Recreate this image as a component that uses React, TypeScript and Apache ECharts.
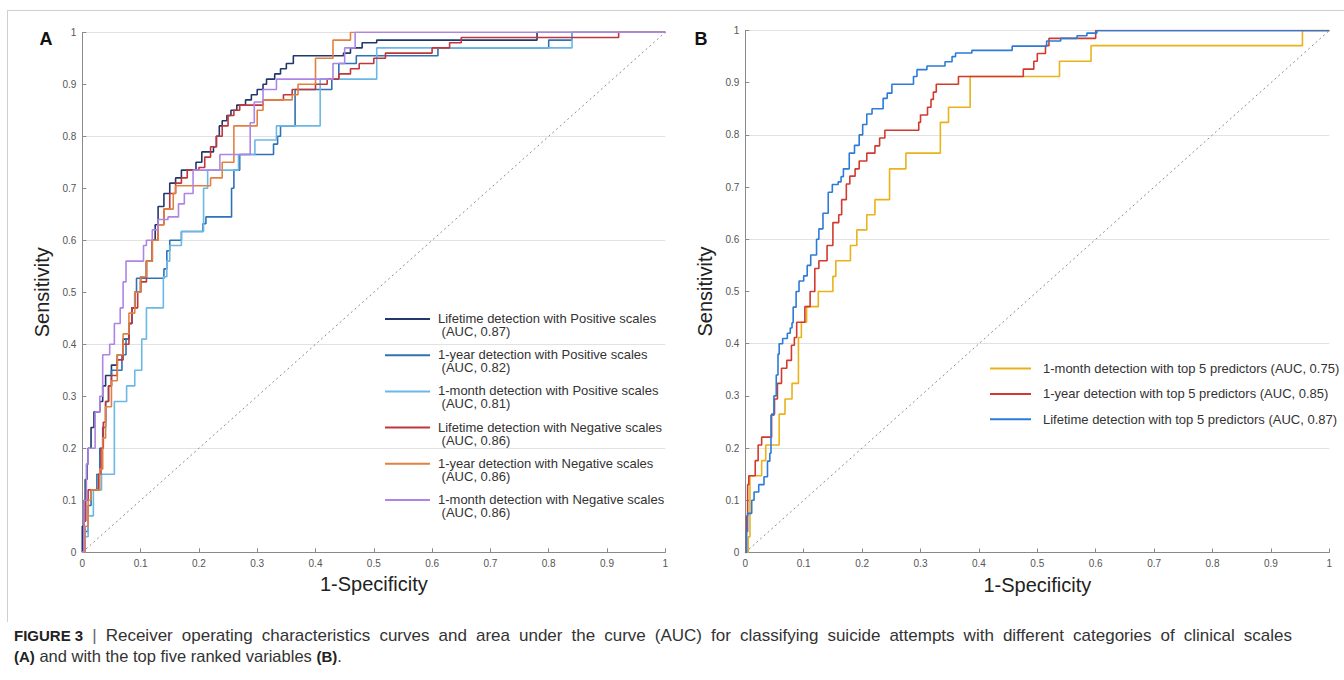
import React, { useEffect, useRef } from "react";
import * as echarts from "echarts";

// ---------- Panel A: ROC points [1-specificity, sensitivity] ----------
const lifetimePositive: number[][] = [
  [0, 0], [0, 0.05], [0.003, 0.1], [0.005, 0.14], [0.008, 0.17], [0.01, 0.2], [0.015, 0.24], [0.02, 0.27],
  [0.03, 0.29], [0.035, 0.32], [0.04, 0.34], [0.05, 0.36], [0.06, 0.38], [0.07, 0.41], [0.08, 0.44],
  [0.085, 0.47], [0.09, 0.5], [0.1, 0.53], [0.11, 0.56], [0.12, 0.6], [0.125, 0.63], [0.13, 0.665],
  [0.14, 0.69], [0.15, 0.71], [0.16, 0.72], [0.17, 0.735], [0.195, 0.75], [0.205, 0.77], [0.225, 0.78],
  [0.23, 0.8], [0.235, 0.82], [0.24, 0.83], [0.248, 0.84], [0.255, 0.85], [0.265, 0.86], [0.28, 0.87],
  [0.29, 0.88], [0.3, 0.89], [0.31, 0.9], [0.316, 0.91], [0.33, 0.92], [0.34, 0.93], [0.35, 0.94],
  [0.362, 0.955], [0.448, 0.96], [0.46, 0.97], [0.48, 0.98], [0.505, 0.985], [0.78, 1], [1, 1],
];
const yearPositive: number[][] = [
  [0, 0], [0.005, 0.04], [0.01, 0.09], [0.015, 0.12], [0.025, 0.15], [0.03, 0.2], [0.035, 0.24],
  [0.04, 0.29], [0.045, 0.32], [0.05, 0.35], [0.068, 0.38], [0.075, 0.41], [0.08, 0.44], [0.085, 0.47],
  [0.09, 0.5], [0.093, 0.527], [0.14, 0.545], [0.145, 0.58], [0.15, 0.6], [0.17, 0.617], [0.207, 0.632],
  [0.212, 0.645], [0.256, 0.7], [0.26, 0.735], [0.27, 0.765], [0.328, 0.785], [0.335, 0.8], [0.34, 0.82],
  [0.365, 0.89], [0.428, 0.91], [0.44, 0.94], [0.47, 0.955], [0.61, 0.97], [0.8, 0.985], [0.84, 1], [1, 1],
];
const monthPositive: number[][] = [
  [0, 0], [0.005, 0.03], [0.01, 0.07], [0.019, 0.12], [0.033, 0.15], [0.055, 0.29], [0.076, 0.32],
  [0.09, 0.35], [0.102, 0.41], [0.11, 0.47], [0.139, 0.53], [0.145, 0.56], [0.15, 0.59], [0.17, 0.617],
  [0.208, 0.7], [0.215, 0.735], [0.268, 0.765], [0.296, 0.793], [0.333, 0.82], [0.408, 0.91],
  [0.505, 0.97], [0.84, 1], [1, 1],
];
const lifetimeNegative: number[][] = [
  [0, 0], [0.003, 0.06], [0.006, 0.1], [0.01, 0.12], [0.025, 0.12], [0.028, 0.15], [0.032, 0.2],
  [0.036, 0.25], [0.04, 0.29], [0.045, 0.32], [0.05, 0.34], [0.06, 0.37], [0.07, 0.4], [0.08, 0.44],
  [0.085, 0.47], [0.095, 0.5], [0.1, 0.52], [0.11, 0.56], [0.12, 0.6], [0.13, 0.63], [0.14, 0.66],
  [0.15, 0.69], [0.16, 0.71], [0.17, 0.72], [0.18, 0.735], [0.2, 0.74], [0.21, 0.76], [0.22, 0.78],
  [0.23, 0.8], [0.24, 0.82], [0.25, 0.84], [0.26, 0.85], [0.27, 0.86], [0.31, 0.87], [0.345, 0.88],
  [0.36, 0.89], [0.4, 0.9], [0.42, 0.91], [0.44, 0.92], [0.46, 0.93], [0.475, 0.94], [0.5, 0.95],
  [0.52, 0.96], [0.6, 0.97], [0.63, 0.98], [0.65, 0.99], [0.92, 1], [1, 1],
];
const yearNegative: number[][] = [
  [0, 0], [0.005, 0.05], [0.01, 0.1], [0.015, 0.12], [0.025, 0.12], [0.03, 0.16], [0.035, 0.22],
  [0.04, 0.28], [0.05, 0.33], [0.06, 0.38], [0.07, 0.42], [0.08, 0.46], [0.09, 0.5], [0.1, 0.53],
  [0.11, 0.56], [0.12, 0.6], [0.13, 0.63], [0.14, 0.66], [0.156, 0.69], [0.16, 0.705], [0.22, 0.72],
  [0.24, 0.75], [0.26, 0.82], [0.3, 0.85], [0.31, 0.87], [0.36, 0.88], [0.37, 0.9], [0.4, 0.95],
  [0.43, 0.985], [0.46, 1], [1, 1],
];
const monthNegative: number[][] = [
  [0, 0], [0.003, 0.1], [0.007, 0.17], [0.01, 0.2], [0.022, 0.27], [0.03, 0.3], [0.035, 0.38],
  [0.047, 0.4], [0.055, 0.44], [0.065, 0.47], [0.07, 0.52], [0.075, 0.56], [0.105, 0.59], [0.11, 0.6],
  [0.12, 0.62], [0.13, 0.64], [0.147, 0.645], [0.165, 0.67], [0.175, 0.69], [0.19, 0.735],
  [0.236, 0.765], [0.288, 0.826], [0.295, 0.866], [0.31, 0.89], [0.333, 0.91], [0.43, 0.94],
  [0.45, 0.97], [0.468, 1], [1, 1],
];

// ---------- Panel B ----------
const monthTop5: number[][] = [
  [0, 0], [0.005, 0.03], [0.008, 0.147], [0.028, 0.176], [0.035, 0.206], [0.058, 0.265], [0.068, 0.294],
  [0.08, 0.324], [0.091, 0.412], [0.096, 0.441], [0.105, 0.471], [0.125, 0.5], [0.15, 0.529],
  [0.155, 0.559], [0.18, 0.588], [0.191, 0.618], [0.208, 0.647], [0.222, 0.676], [0.247, 0.735],
  [0.275, 0.765], [0.334, 0.824], [0.348, 0.853], [0.385, 0.912], [0.538, 0.941], [0.592, 0.971],
  [0.954, 1], [1, 1],
];
const yearTop5: number[][] = [
  [0, 0], [0.002, 0.07], [0.004, 0.13], [0.006, 0.147], [0.017, 0.176], [0.022, 0.206], [0.028, 0.221],
  [0.045, 0.265], [0.05, 0.294], [0.055, 0.324], [0.062, 0.353], [0.071, 0.368], [0.079, 0.397],
  [0.084, 0.412], [0.088, 0.441], [0.102, 0.471], [0.111, 0.5], [0.119, 0.544], [0.126, 0.559],
  [0.14, 0.588], [0.15, 0.632], [0.16, 0.647], [0.165, 0.676], [0.173, 0.706], [0.179, 0.721],
  [0.188, 0.735], [0.195, 0.75], [0.208, 0.765], [0.222, 0.779], [0.23, 0.794], [0.239, 0.809],
  [0.297, 0.824], [0.3, 0.838], [0.312, 0.853], [0.318, 0.868], [0.322, 0.882], [0.327, 0.897],
  [0.365, 0.912], [0.476, 0.926], [0.494, 0.941], [0.5, 0.956], [0.514, 0.971], [0.52, 0.985],
  [0.6, 1], [1, 1],
];
const lifetimeTop5: number[][] = [
  [0, 0], [0.002, 0.04], [0.004, 0.075], [0.011, 0.1], [0.015, 0.116], [0.023, 0.13], [0.032, 0.145],
  [0.038, 0.175], [0.042, 0.19], [0.044, 0.263], [0.049, 0.3], [0.053, 0.34], [0.056, 0.38],
  [0.058, 0.4], [0.064, 0.41], [0.072, 0.42], [0.077, 0.43], [0.08, 0.44], [0.082, 0.47], [0.087, 0.5],
  [0.092, 0.52], [0.1, 0.53], [0.106, 0.55], [0.112, 0.57], [0.122, 0.6], [0.126, 0.62], [0.133, 0.65],
  [0.142, 0.69], [0.149, 0.705], [0.159, 0.71], [0.164, 0.72], [0.168, 0.735], [0.178, 0.765],
  [0.187, 0.78], [0.195, 0.8], [0.201, 0.82], [0.208, 0.84], [0.217, 0.85], [0.236, 0.87],
  [0.243, 0.88], [0.251, 0.897], [0.288, 0.912], [0.294, 0.925], [0.311, 0.932], [0.342, 0.94],
  [0.354, 0.95], [0.36, 0.957], [0.388, 0.962], [0.457, 0.97], [0.516, 0.98], [0.54, 0.985],
  [0.568, 0.99], [0.585, 0.995], [0.602, 1], [1, 1],
];

const chanceLine: number[][] = [[0, 0], [1, 1]];

const seriesA = [
  { label: "Lifetime detection with Positive scales", auc: "(AUC, 0.87)", color: "#22386a", data: lifetimePositive },
  { label: "1-year detection with Positive scales", auc: "(AUC, 0.82)", color: "#2f72b5", data: yearPositive },
  { label: "1-month detection with Positive scales", auc: "(AUC, 0.81)", color: "#6bb8e6", data: monthPositive },
  { label: "Lifetime detection with Negative scales", auc: "(AUC, 0.86)", color: "#c0363a", data: lifetimeNegative },
  { label: "1-year detection with Negative scales", auc: "(AUC, 0.86)", color: "#e2813f", data: yearNegative },
  { label: "1-month detection with Negative scales", auc: "(AUC, 0.86)", color: "#ad85e6", data: monthNegative },
];
const seriesB = [
  { label: "1-month detection with top 5 predictors (AUC, 0.75)", color: "#e9b21a", data: monthTop5 },
  { label: "1-year detection with top 5 predictors (AUC, 0.85)", color: "#d23a2f", data: yearTop5 },
  { label: "Lifetime detection with top 5 predictors (AUC, 0.87)", color: "#2d7bd8", data: lifetimeTop5 },
];

const captionLabel = "FIGURE 3";
const captionLine1 =
  "Receiver operating characteristics curves and area under the curve (AUC) for classifying suicide attempts with different categories of clinical scales";
const captionLine2 = "and with the top five ranked variables";

const FONT = "Arial, 'Liberation Sans', Helvetica, sans-serif";

export default function App() {
  const ref = useRef<HTMLDivElement>(null);
  useEffect(() => {
    if (!ref.current) return;
    const chart = echarts.init(ref.current, undefined, { renderer: "svg" });

    const mkX = (gi: number) => ({
      type: "value", gridIndex: gi, min: 0, max: 1, interval: 0.1,
      axisLine: { lineStyle: { color: "#8a8a8a", width: 1 } },
      axisTick: { inside: true, length: 4, lineStyle: { color: "#8a8a8a" } },
      axisLabel: { fontSize: 10, color: "#555", margin: 6, fontFamily: FONT },
      splitLine: { show: false },
      name: "1-Specificity", nameLocation: "middle", nameGap: 22,
      nameTextStyle: { fontSize: 20, color: "#222", fontFamily: FONT },
    });
    const mkY = (gi: number) => ({
      type: "value", gridIndex: gi, min: 0, max: 1, interval: 0.1,
      axisLine: { show: true, lineStyle: { color: "#8a8a8a", width: 1 } },
      axisTick: { show: true, inside: true, length: 4, lineStyle: { color: "#8a8a8a" } },
      axisLabel: { fontSize: 10, color: "#555", margin: 6, fontFamily: FONT },
      splitLine: { show: false },
      name: "Sensitivity", nameLocation: "middle", nameGap: 30,
      nameTextStyle: { fontSize: 20, color: "#222", fontFamily: FONT },
    });
    const mkGridY = (gi: number) => ({
      type: "value", gridIndex: gi, min: 0, max: 1, interval: 0.2, position: "left",
      axisLine: { show: false }, axisTick: { show: false }, axisLabel: { show: false },
      splitLine: { show: true, lineStyle: { color: "#e2e2e2", width: 1 } },
    });

    const lineSeries = (s: any, xi: number, yi: number) => ({
      type: "line", name: s.label, xAxisIndex: xi, yAxisIndex: yi, data: s.data,
      step: "end", symbol: "none", lineStyle: { color: s.color, width: 1.6 }, itemStyle: { color: s.color },
    });
    const diag = (xi: number, yi: number) => ({
      type: "line", name: "chance", xAxisIndex: xi, yAxisIndex: yi, data: chanceLine, symbol: "none", silent: true,
      lineStyle: { color: "#8c8c8c", width: 1, type: [2, 3] }, z: 1,
    });

    const graphics: any[] = [];
    // frame
    graphics.push({ type: "line", shape: { x1: 7, y1: 10.5, x2: 1344, y2: 10.5 }, style: { stroke: "#cfcfcf", lineWidth: 1 } });
    graphics.push({ type: "line", shape: { x1: 7.5, y1: 10, x2: 7.5, y2: 622 }, style: { stroke: "#cfcfcf", lineWidth: 1 } });
    // panel letters
    graphics.push({ type: "text", x: 46, y: 39, style: { text: "A", font: `bold 18px ${FONT}`, fill: "#111", align: "center", verticalAlign: "middle" } });
    graphics.push({ type: "text", x: 701, y: 39, style: { text: "B", font: `bold 18px ${FONT}`, fill: "#111", align: "center", verticalAlign: "middle" } });
    // legend A
    seriesA.forEach((s, i) => {
      const y = 319 + i * 36.2;
      graphics.push({ type: "line", shape: { x1: 385, y1: y, x2: 430, y2: y }, style: { stroke: s.color, lineWidth: 2 } });
      graphics.push({ type: "text", x: 438, y: y - 7, style: { text: s.label + "\n " + s.auc, font: `13px ${FONT}`, fill: "#333", lineHeight: 13 } });
    });
    // legend B
    seriesB.forEach((s, i) => {
      const y = 368.5 + i * 25.4;
      graphics.push({ type: "line", shape: { x1: 990, y1: y, x2: 1031, y2: y }, style: { stroke: s.color, lineWidth: 2 } });
      graphics.push({ type: "text", x: 1043, y, style: { text: s.label, font: `13px ${FONT}`, fill: "#333", verticalAlign: "middle" } });
    });

    // caption, first line justified between x=14 and x=1292
    const regFont = `17px ${FONT}`;
    const boldFont = `bold 15px ${FONT}`;
    const ctx = document.createElement("canvas").getContext("2d") as CanvasRenderingContext2D;
    const tokens = [
      { t: captionLabel, font: boldFont, fill: "#222" },
      { t: "|", font: regFont, fill: "#666" },
      ...captionLine1.split(" ").map((w) => ({ t: w, font: regFont, fill: "#333" })),
    ];
    const widths = tokens.map((tk) => { ctx.font = tk.font; return ctx.measureText(tk.t).width; });
    const total = widths.reduce((a, b) => a + b, 0);
    const gap = (1292 - 14 - total) / (tokens.length - 1);
    let cx = 14;
    tokens.forEach((tk, i) => {
      graphics.push({ type: "text", x: cx, y: 635, style: { text: tk.t, font: tk.font, fill: tk.fill, verticalAlign: "middle" } });
      cx += widths[i] + gap;
    });
    graphics.push({
      type: "text", x: 14, y: 656,
      style: {
        text: `{b|(A)} ${captionLine2} {b|(B)}.`,
        font: `16.5px ${FONT}`, fill: "#333", verticalAlign: "middle",
        rich: { b: { fontWeight: "bold", fontSize: 15, fontFamily: FONT, fill: "#222" } },
      },
    });

    chart.setOption({
      animation: false,
      backgroundColor: "#fff",
      grid: [
        { left: 82.3, top: 32.3, width: 583, height: 520 },
        { left: 745.3, top: 30.5, width: 584, height: 522 },
      ],
      xAxis: [mkX(0), mkX(1)],
      yAxis: [mkY(0), mkY(1), mkGridY(0), mkGridY(1)],
      series: [
        diag(0, 0),
        ...seriesA.map((s) => lineSeries(s, 0, 0)),
        diag(1, 1),
        ...seriesB.map((s) => lineSeries(s, 1, 1)),
      ],
      graphic: graphics,
    });
    return () => chart.dispose();
  }, []);
  return <div ref={ref} style={{ position: "fixed", left: 0, top: 0, width: 1344, height: 680, background: "#fff" }} />;
}
